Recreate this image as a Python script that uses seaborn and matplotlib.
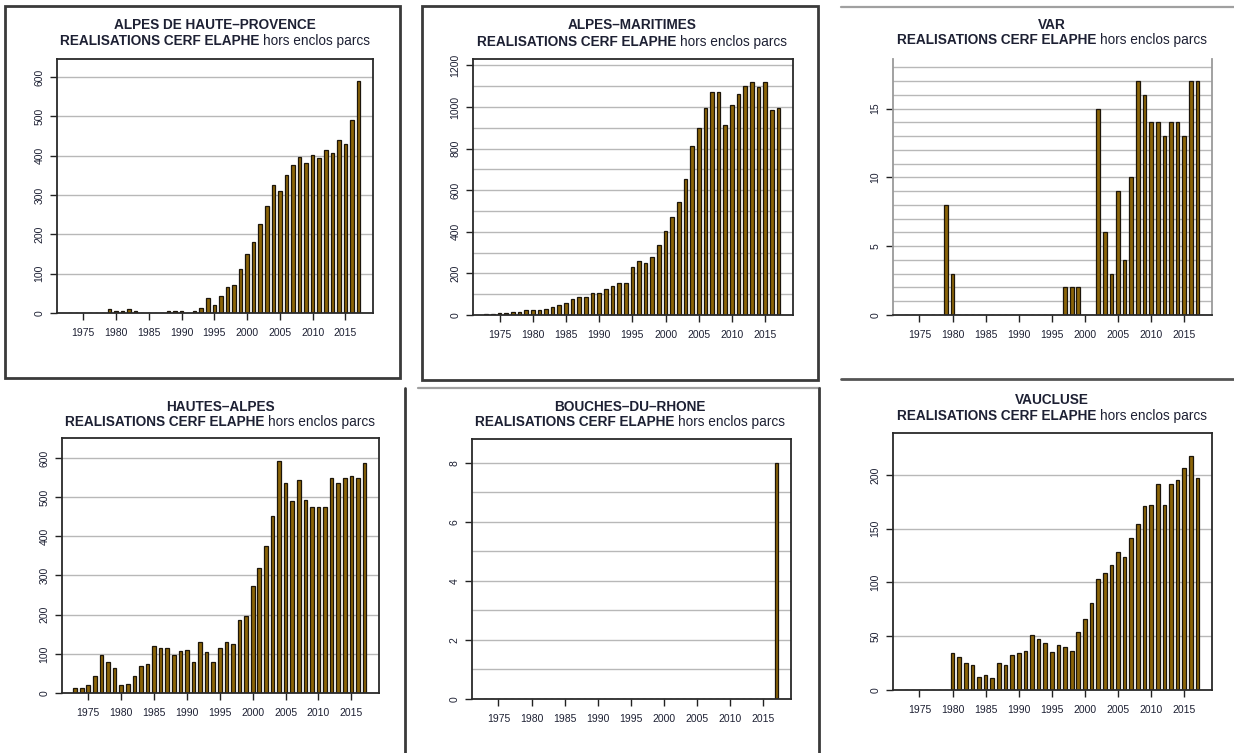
import numpy as np
import pandas as pd
import matplotlib
matplotlib.use("Agg")
import matplotlib.pyplot as plt
from matplotlib.lines import Line2D
from matplotlib.patches import Rectangle
from matplotlib.offsetbox import TextArea, HPacker, AnnotationBbox
import seaborn as sns

# ---- data: annual red deer harvest (hors enclos parcs), 1973-2017 ----
years = list(range(1973, 2018))

alpes_haute_provence = [0, 0, 0, 0, 0, 0, 10, 6, 6, 9, 5, 0, 0, 0, 0, 6, 6, 6, 0, 5,
                        12, 37, 21, 44, 66, 72, 113, 149, 180, 226, 271, 326, 311, 352,
                        377, 398, 381, 403, 394, 414, 408, 439, 430, 490, 591]

alpes_maritimes = [3, 3, 8, 8, 16, 16, 24, 24, 24, 29, 40, 48, 59, 77, 88, 88, 104, 104,
                   124, 140, 156, 156, 233, 262, 248, 281, 338, 406, 471, 543, 656, 811,
                   898, 995, 1071, 1071, 915, 1012, 1063, 1100, 1119, 1096, 1119, 987, 994]

var = [0, 0, 0, 0, 0, 0, 8, 3, 0, 0, 0, 0, 0, 0, 0, 0, 0, 0, 0, 0, 0, 0, 0, 0, 2, 2, 2,
       0, 0, 15, 6, 3, 9, 4, 10, 17, 16, 14, 14, 13, 14, 14, 13, 17, 17]

hautes_alpes = [12, 12, 21, 43, 98, 80, 64, 20, 23, 43, 68, 73, 120, 115, 115, 98, 107,
                111, 80, 130, 105, 80, 115, 130, 124, 186, 197, 272, 320, 376, 453, 592,
                537, 490, 545, 493, 474, 474, 474, 550, 536, 550, 554, 550, 587]

bouches_du_rhone = [0] * 44 + [8]

vaucluse = [0, 0, 0, 0, 0, 0, 0, 34, 31, 25, 23, 12, 14, 11, 25, 23, 33, 34, 36, 51, 47,
            44, 35, 42, 40, 36, 54, 66, 81, 103, 109, 116, 128, 124, 141, 154, 171, 172,
            192, 172, 192, 195, 206, 218, 197]

departements = ["ALPES DE HAUTE–PROVENCE", "ALPES–MARITIMES", "VAR",
                "HAUTES–ALPES", "BOUCHES–DU–RHONE", "VAUCLUSE"]
series = [alpes_haute_provence, alpes_maritimes, var,
          hautes_alpes, bouches_du_rhone, vaucluse]
subtitle_bold = "REALISATIONS CERF ELAPHE "
subtitle_normal = "hors enclos parcs"
year_ticks = [1975, 1980, 1985, 1990, 1995, 2000, 2005, 2010, 2015]

# per-panel y axis: (upper limit, labelled ticks, grid step)
y_axes = [
    (646, [0, 100, 200, 300, 400, 500, 600], 100),
    (1231, [0, 200, 400, 600, 800, 1000, 1200], 100),
    (18.6, [0, 5, 10, 15], 1),
    (651, [0, 100, 200, 300, 400, 500, 600], 100),
    (8.81, [0, 2, 4, 6, 8], 1),
    (239, [0, 50, 100, 150, 200], 50),
]

# ---- layout in pixels: axes box (left, top, right, bottom), title centre x, title y's ----
W, H = 1234, 753
boxes = [
    ((57, 59, 373, 313), 215, (25, 41)),
    ((473, 59, 793, 315), 632, (25, 42)),
    ((893, 59, 1212, 315), 1052, (25, 40)),
    ((62, 438, 379, 693), 220, (407, 422)),
    ((472, 439, 791, 699), 630, (407, 422)),
    ((893, 433, 1212, 690), 1052, (400, 416)),
]

sns.set_theme(style="white")
plt.rcParams["font.family"] = ["Liberation Sans", "DejaVu Sans"]

BAR = "#8B6508"
EDGE = "#1c150a"
TXT = "#1d2033"
TITLE_SIZE = 9.8

fig = plt.figure(figsize=(W / 100, H / 100), dpi=100)
fig.patch.set_facecolor("white")


def fx(px):
    return px / W


def fy(py):
    return 1 - py / H


for i, (name, vals) in enumerate(zip(departements, series)):
    (l, t, r, b), cx, (ty1, ty2) = boxes[i]
    ax = fig.add_axes([fx(l), fy(b), fx(r) - fx(l), fy(t) - fy(b)])
    ymax, yt, gstep = y_axes[i]

    df = pd.DataFrame({"annee": years, "realisations": vals})
    for g in np.arange(gstep, ymax, gstep):
        ax.axhline(g, color="#b8b8b8", lw=1.0, zorder=0)
    sns.barplot(data=df, x="annee", y="realisations", native_scale=True,
                width=0.55, color=BAR, saturation=1, edgecolor=EDGE,
                linewidth=0.9, ax=ax, zorder=2)

    ax.set_xlim(1971, 2019.2)
    ax.set_ylim(0, ymax)
    ax.set_xticks(year_ticks)
    ax.set_xticklabels([str(y) for y in year_ticks])
    ax.set_yticks(yt)
    ax.set_yticklabels([str(v) for v in yt], rotation=90, va="center")
    ax.set_xlabel("")
    ax.set_ylabel("")
    ax.tick_params(axis="both", which="both", direction="out", length=5,
                   width=1, color="#222222", labelsize=7.5, labelcolor=TXT,
                   bottom=True, left=True)
    ax.tick_params(axis="x", pad=5.5)
    ax.tick_params(axis="y", pad=4)
    ax.grid(False)

    spine_col = "#9a9a9a" if i == 2 else "#2a2a2a"
    for side, sp in ax.spines.items():
        sp.set_color(spine_col)
        sp.set_linewidth(1.3)
    if i == 2:
        ax.spines["top"].set_visible(False)
    ax.spines["bottom"].set_color("#2a2a2a")

    # two-line title, second line with a normal-weight tail
    t1 = TextArea(name, textprops=dict(fontsize=TITLE_SIZE, fontweight="bold", color=TXT))
    fig.add_artist(AnnotationBbox(t1, (fx(cx), fy(ty1)), xycoords="figure fraction",
                                  frameon=False, box_alignment=(0.5, 0.5), pad=0))
    pa = TextArea(subtitle_bold, textprops=dict(fontsize=TITLE_SIZE, fontweight="bold", color=TXT))
    pb = TextArea(subtitle_normal, textprops=dict(fontsize=TITLE_SIZE, fontweight="normal", color=TXT))
    line2 = HPacker(children=[pa, pb], align="baseline", pad=0, sep=0)
    fig.add_artist(AnnotationBbox(line2, (fx(cx), fy(ty2)), xycoords="figure fraction",
                                  frameon=False, box_alignment=(0.5, 0.5), pad=0))

# ---- document frames around the individual charts ----
dark = "#3a3a3a"
fig.add_artist(Rectangle((fx(5), fy(378)), fx(400) - fx(5), fy(6) - fy(378),
                         transform=fig.transFigure, fill=False, ec=dark, lw=2))
fig.add_artist(Rectangle((fx(422), fy(380)), fx(818) - fx(422), fy(6) - fy(380),
                         transform=fig.transFigure, fill=False, ec=dark, lw=2))
segments = [
    ((841, 1234), (7, 7), "#a0a0a0", 1.6),
    ((841, 1234), (379, 379), "#555555", 2),
    ((405, 405), (388, 753), dark, 2),
    ((418, 820), (388, 388), "#a0a0a0", 1.6),
    ((819, 819), (388, 753), dark, 2),
]
for (x0, x1), (y0, y1), c, lw in segments:
    fig.add_artist(Line2D([fx(x0), fx(x1)], [fy(y0), fy(y1)],
                          transform=fig.transFigure, color=c, lw=lw))

fig.savefig("out.png", dpi=100, facecolor="white")
